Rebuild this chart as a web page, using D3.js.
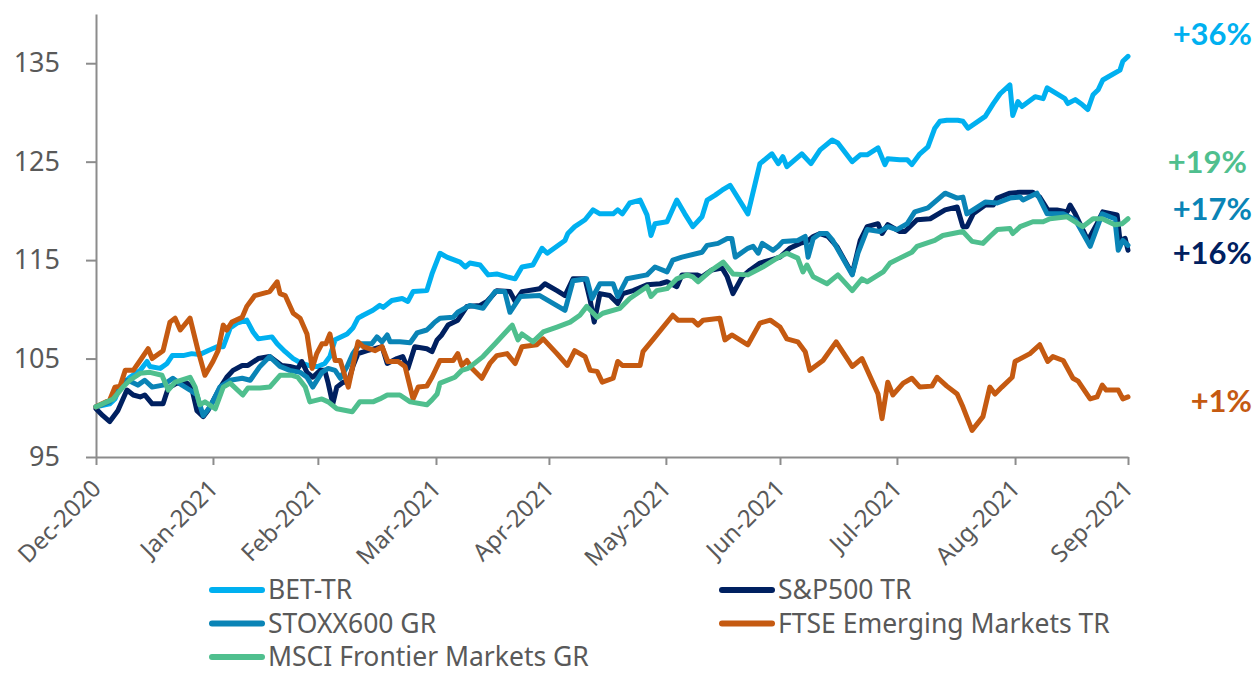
<!DOCTYPE html>
<html>
<head>
<meta charset="utf-8">
<script src="https://cdn.jsdelivr.net/npm/d3@7"></script>
<style>
  html, body { margin: 0; padding: 0; background: #ffffff; }
  svg { display: block; }
</style>
</head>
<body>
<svg id="chart" width="1256" height="675"></svg>
<script>
// ---- Data (x = trading session index since 1 Dec 2020, y = index level, start = 100) ----
const monthLabels = ["Dec-2020","Jan-2021","Feb-2021","Mar-2021","Apr-2021","May-2021","Jun-2021","Jul-2021","Aug-2021","Sep-2021"];
const monthSessions = [0, 20.4, 38.7, 59.3, 79, 99.4, 119.3, 139.7, 160.3, 180];
const yTicks = [95, 105, 115, 125, 135];

const seriesNames = ["BET-TR", "S&P500 TR", "STOXX600 GR", "FTSE Emerging Markets TR", "MSCI Frontier Markets GR"];
const seriesColors = ["#00b0f0", "#002060", "#0a84b6", "#c55a11", "#4fbf8e"];

const betTR = [[0,100.1],[2.4,100.4],[3.3,100.9],[4.2,102.1],[5.9,103.1],[7.7,103.8],[8.9,104.7],[9.4,104.2],[11.2,104.0],[12.4,104.5],[13.3,105.3],[15.2,105.3],[16.7,105.5],[18.1,105.4],[19.5,105.8],[21.1,106.2],[22.2,106.2],[23.4,108.1],[24.6,108.6],[26.3,108.9],[27.4,107.7],[28.3,107.0],[30.7,107.2],[31.6,106.5],[33.0,105.7],[34.4,105.0],[35.9,104.5],[37.7,104.2],[38.7,104.2],[39.9,104.5],[40.8,105.2],[41.7,106.9],[43.8,107.5],[44.8,108.1],[45.7,109.1],[46.6,109.4],[48.3,109.9],[49.5,110.4],[50.1,110.2],[51.6,110.9],[53.4,111.1],[54.4,110.8],[55.3,111.8],[57.7,111.9],[58.6,113.6],[60.0,115.7],[61.2,115.3],[63.5,114.8],[64.4,114.3],[65.2,114.7],[67.0,114.5],[68.4,113.5],[69.9,113.6],[71.7,113.3],[73.1,113.1],[74.3,114.3],[76.2,114.5],[77.8,116.2],[78.7,115.7],[81.8,117.0],[82.3,117.7],[83.5,118.4],[85.3,119.1],[86.7,120.1],[87.9,119.7],[90.2,119.7],[91.0,120.1],[91.8,119.7],[93.1,120.8],[94.9,121.1],[96.1,119.6],[96.8,117.5],[97.5,118.7],[99.6,118.9],[101.3,121.1],[102.7,119.7],[104.1,118.4],[105.7,119.4],[106.6,121.1],[108.0,121.6],[109.2,122.1],[110.6,122.6],[113.7,119.7],[115.8,124.8],[117.9,125.8],[119.0,124.8],[119.8,125.5],[120.5,124.5],[123.1,125.8],[124.7,124.8],[126.3,126.2],[128.4,127.2],[129.4,126.9],[131.9,125.0],[133.3,125.7],[134.5,125.7],[136.4,126.4],[137.6,124.7],[138.1,125.3],[140.2,125.2],[141.5,125.2],[142.3,124.7],[143.7,125.8],[145.1,126.5],[146.3,128.4],[147.2,129.1],[148.4,129.2],[150.3,129.2],[151.2,129.1],[152.1,128.4],[155.1,129.6],[156.5,130.9],[157.7,131.9],[159.4,132.8],[159.9,129.7],[160.8,131.1],[161.5,130.6],[163.8,131.6],[165.2,131.4],[165.9,132.5],[169.0,131.4],[169.5,130.9],[170.8,131.3],[172.0,130.8],[173.0,130.3],[173.9,131.8],[174.8,132.3],[175.6,133.3],[176.5,133.6],[178.6,134.3],[179.1,135.2],[180,135.7]];

const sp500TR = [[0,99.9],[1.2,99.2],[2.4,98.6],[3.8,99.7],[5.4,101.8],[6.5,101.3],[7.7,101.1],[8.5,101.3],[9.8,100.4],[11.7,100.4],[12.6,102.0],[14.1,102.5],[15.9,102.5],[16.7,102.0],[17.6,99.7],[18.7,99.1],[19.5,99.7],[21.6,102.0],[22.8,103.1],[23.9,103.8],[25.5,104.3],[26.5,104.3],[28.3,105.0],[30.3,105.2],[32.4,104.3],[33.8,104.2],[35.2,104.0],[35.9,104.7],[36.8,103.6],[37.8,103.1],[39.1,103.8],[39.9,103.8],[40.5,102.5],[41.3,100.4],[42.0,102.1],[43.1,102.6],[44.0,102.6],[44.8,104.2],[45.7,105.5],[47.3,105.8],[49.9,106.2],[50.8,104.5],[52.5,105.0],[53.5,105.2],[54.4,104.0],[55.6,106.2],[57.7,106.0],[58.6,105.7],[59.5,106.9],[60.3,107.4],[61.4,108.4],[63.1,108.9],[64.7,110.3],[67.0,110.4],[68.2,110.8],[69.9,111.9],[72.2,111.8],[73.1,110.8],[74.3,111.8],[77.4,112.1],[78.3,112.6],[80.4,111.9],[81.8,111.4],[83.2,113.1],[85.3,113.1],[86.2,110.9],[86.9,108.7],[87.9,111.6],[89.6,111.4],[91.0,110.6],[91.9,111.6],[93.7,111.9],[96.1,112.5],[98.4,112.6],[99.6,112.8],[101.3,112.3],[102.2,113.5],[104.8,113.5],[105.7,113.3],[107.4,114.0],[109.2,114.2],[110.1,113.3],[111.1,111.6],[112.7,113.3],[114.1,114.0],[115.8,114.7],[117.6,115.0],[119.3,115.3],[121.0,116.2],[122.8,116.7],[124.0,116.9],[125.1,117.4],[126.3,117.7],[127.7,117.4],[129.2,116.4],[131.9,113.6],[133.3,117.0],[134.5,118.4],[136.4,118.7],[137.1,117.7],[138.1,118.6],[140.2,117.9],[141.1,117.9],[143.2,119.1],[145.5,119.2],[148.1,120.1],[150.2,120.4],[151.2,118.4],[151.9,118.4],[153.0,119.7],[155.1,120.6],[156.5,120.6],[157.2,121.3],[159.4,121.8],[161.2,121.9],[163.4,121.9],[164.6,121.4],[166.0,120.1],[167.6,120.1],[169.4,119.9],[169.9,120.6],[170.8,119.7],[173.0,117.0],[174.6,118.7],[175.6,119.9],[178.1,119.6],[178.6,117.0],[179.5,117.2],[180,116.0]];

const stoxx600GR = [[0,100.1],[2.4,100.6],[3.7,101.6],[5.1,102.8],[6.3,102.6],[7.3,102.3],[8.5,102.8],[9.8,102.1],[11.7,102.3],[13.4,103.0],[15.0,102.3],[16.4,101.8],[17.6,101.3],[18.7,99.2],[19.9,100.1],[21.6,102.1],[23.4,102.8],[25.5,103.0],[26.9,102.8],[28.6,104.2],[30.3,105.2],[32.1,104.2],[33.8,103.8],[35.6,103.6],[36.8,103.1],[37.8,102.1],[39.4,103.6],[40.5,104.0],[41.7,103.8],[42.6,103.0],[43.8,104.2],[44.8,105.5],[46.0,106.5],[48.1,106.5],[49.0,107.2],[49.9,106.7],[50.8,107.4],[51.3,106.7],[53.0,106.7],[54.8,106.6],[56.0,107.6],[57.7,107.9],[58.6,108.4],[59.1,108.7],[60.0,109.1],[62.3,109.2],[63.1,109.7],[65.2,110.4],[67.5,110.1],[69.6,111.8],[71.3,111.8],[72.2,109.7],[74.0,111.3],[77.4,111.4],[81.8,109.9],[83.2,112.9],[85.6,113.1],[86.5,111.1],[87.9,112.6],[90.2,112.6],[91.0,111.3],[92.6,113.1],[96.1,113.5],[97.5,114.3],[99.6,113.8],[100.6,115.0],[102.2,115.3],[105.7,115.8],[106.6,116.5],[108.5,116.7],[110.1,117.2],[110.9,117.2],[111.5,115.3],[113.7,116.2],[114.6,116.4],[115.5,115.7],[116.2,116.7],[118.1,116.0],[119.0,116.4],[119.8,116.9],[122.4,117.0],[123.7,117.4],[124.2,115.3],[125.1,117.2],[126.3,117.7],[127.5,117.7],[128.5,117.0],[131.9,113.5],[132.9,115.7],[134.5,118.1],[136.7,117.9],[138.1,118.4],[139.7,118.1],[141.5,118.7],[142.8,119.9],[145.1,120.3],[148.1,121.8],[150.2,121.3],[151.2,121.4],[151.9,119.7],[155.1,120.9],[157.2,120.8],[159.4,121.3],[161.2,121.4],[161.7,121.1],[164.1,121.8],[165.9,119.7],[168.7,119.7],[170.8,119.1],[173.4,116.4],[175.5,119.7],[177.7,119.2],[178.3,116.0],[179.1,117.0],[180,116.5]];

const ftseEmTR = [[0,100.1],[2.4,100.8],[3.3,102.1],[4.2,102.2],[5.1,103.8],[6.5,103.8],[7.7,104.8],[9.1,106.0],[9.8,105.0],[11.7,105.8],[12.9,108.7],[13.8,109.1],[14.7,107.9],[16.4,109.1],[17.8,105.8],[19.0,103.3],[20.4,104.7],[21.3,105.8],[22.2,108.4],[22.8,107.9],[23.7,108.7],[25.5,109.2],[26.3,110.3],[27.7,111.4],[30.3,111.8],[31.6,112.8],[32.1,111.6],[33.0,111.4],[34.4,109.6],[35.6,109.1],[36.8,107.5],[37.7,104.0],[38.5,105.5],[39.4,106.5],[40.1,106.5],[40.8,107.5],[41.7,104.8],[42.6,104.8],[44.0,102.1],[45.7,106.7],[46.6,106.2],[48.7,105.8],[49.9,106.2],[50.9,104.7],[52.7,104.7],[53.9,104.2],[55.3,100.9],[56.2,102.1],[57.7,102.2],[58.6,103.1],[60.0,104.8],[62.3,104.8],[63.1,105.5],[63.8,104.3],[64.7,104.8],[65.6,104.0],[67.3,103.0],[68.7,104.5],[69.9,105.3],[71.7,105.5],[73.1,104.5],[74.3,106.2],[76.9,106.4],[78.0,107.0],[80.4,105.5],[82.2,104.3],[83.5,105.8],[85.3,105.2],[86.2,103.8],[87.4,103.7],[88.3,102.6],[90.2,103.0],[91.0,104.7],[91.8,104.3],[94.9,104.3],[95.4,105.7],[97.1,106.9],[100.6,109.4],[101.5,108.9],[104.1,108.9],[105.0,108.4],[105.9,108.9],[108.8,109.1],[109.7,106.9],[110.9,107.4],[113.7,106.4],[115.8,108.6],[117.6,108.9],[119.3,108.2],[120.5,107.0],[122.4,106.7],[123.7,105.7],[124.5,103.8],[126.8,104.8],[129.1,106.7],[131.9,104.2],[133.6,105.0],[136.4,101.4],[137.1,98.9],[138.1,102.6],[139.0,101.3],[140.8,102.5],[142.3,103.0],[143.7,102.1],[145.8,102.2],[146.7,103.1],[148.4,102.2],[150.2,101.4],[151.2,100.1],[152.8,97.7],[154.7,99.1],[155.9,102.1],[156.8,101.4],[158.0,102.1],[159.8,103.1],[160.3,104.7],[162.9,105.5],[164.6,106.4],[166.0,104.7],[166.9,105.2],[168.7,104.8],[170.4,103.0],[171.3,102.7],[173.4,100.9],[174.6,101.1],[175.5,102.3],[176.2,101.8],[178.3,101.8],[179.1,100.9],[180,101.1]];

const msciFmGR = [[0,100.1],[3.0,100.9],[4.7,102.1],[5.9,102.8],[7.7,103.5],[9.4,103.6],[11.5,103.3],[12.6,101.8],[13.8,102.6],[16.4,103.1],[17.3,102.1],[18.1,100.3],[19.0,100.6],[20.8,99.9],[22.2,102.1],[23.4,102.5],[25.6,101.3],[26.5,102.0],[28.6,102.0],[30.3,102.1],[32.1,103.3],[34.2,103.3],[35.2,103.1],[36.5,102.1],[37.3,100.6],[39.4,100.9],[40.5,100.6],[42.0,99.9],[44.7,99.6],[46.0,100.6],[48.3,100.6],[49.5,100.9],[50.8,101.3],[53.0,101.3],[54.8,100.6],[57.7,100.3],[58.6,100.8],[59.5,101.4],[60.0,102.5],[62.6,103.1],[63.8,103.8],[64.9,104.0],[67.5,105.2],[69.6,106.5],[72.6,108.4],[73.6,106.9],[74.3,107.5],[76.2,106.7],[78.0,107.7],[80.4,108.2],[82.7,108.7],[84.4,109.4],[85.6,110.3],[87.4,109.2],[88.4,109.6],[91.4,110.1],[93.1,111.1],[96.1,112.3],[96.8,111.3],[97.8,111.9],[99.6,112.1],[101.3,113.1],[103.1,113.5],[104.1,113.3],[105.0,112.8],[107.4,114.0],[109.4,114.8],[111.1,113.6],[113.7,113.5],[116.3,114.3],[118.8,115.2],[120.5,115.7],[122.4,115.2],[123.3,113.8],[124.0,114.5],[125.1,113.3],[127.5,112.6],[129.4,113.5],[131.9,111.9],[133.6,113.1],[134.5,112.8],[137.3,113.8],[138.5,114.7],[140.2,115.2],[142.3,115.8],[143.2,116.4],[146.3,117.0],[147.7,117.5],[151.2,117.9],[152.8,116.9],[154.7,116.7],[155.9,117.4],[157.2,118.1],[159.4,118.2],[159.9,117.7],[161.2,118.4],[163.4,118.9],[165.2,118.9],[166.4,119.2],[169.4,119.4],[172.1,118.4],[173.9,119.2],[175.5,119.2],[177.7,118.6],[179.0,118.7],[180,119.2]];

const endLabels = ["+36%", "+16%", "+17%", "+1%", "+19%"];     // same order as series
const endLabelLevels = [138.0, 115.7, 120.25, 100.7, 125.0]; // vertical placement on the y scale

// ---- Layout ----
const svg = d3.select("#chart");
const axisColor = "#8c8c8c";
const textColor = "#595959";
const baseFont = "'Noto Sans', 'Open Sans', sans-serif";

const x = d3.scaleLinear().domain([0, 180]).range([96, 1128]);
const y = d3.scaleLinear().domain([95, 140]).range([457, 14]);

const allSeries = [betTR, sp500TR, stoxx600GR, ftseEmTR, msciFmGR];

// Y axis
const yAxis = svg.append("g").attr("transform", "translate(96,0)")
  .call(d3.axisLeft(y).tickValues(yTicks).tickSize(10).tickSizeOuter(0).tickPadding(26));
yAxis.select(".domain").attr("stroke", axisColor).attr("stroke-width", 2);
yAxis.selectAll(".tick line").attr("stroke", axisColor).attr("stroke-width", 2);
yAxis.selectAll(".tick text").attr("fill", textColor).style("font-family", baseFont).style("font-size", "27px");

// X axis
const xAxis = svg.append("g").attr("transform", "translate(0,457)")
  .call(d3.axisBottom(x).tickValues(monthSessions).tickSize(8).tickSizeOuter(0)
    .tickFormat((d, i) => monthLabels[i]));
xAxis.select(".domain").attr("stroke", axisColor).attr("stroke-width", 2);
xAxis.selectAll(".tick line").attr("stroke", axisColor).attr("stroke-width", 2);
xAxis.selectAll(".tick text")
  .attr("x", 0).attr("y", 0).attr("dy", 0)
  .attr("text-anchor", "end")
  .attr("transform", "translate(6,33) rotate(-45)")
  .attr("fill", textColor)
  .style("font-family", baseFont).style("font-size", "24px");

// Lines
const line = d3.line().x(d => x(d[0])).y(d => y(d[1]));
svg.append("g").selectAll("path").data(allSeries).join("path")
  .attr("d", line)
  .attr("fill", "none")
  .attr("stroke", (d, i) => seriesColors[i])
  .attr("stroke-width", 5)
  .attr("stroke-linejoin", "round")
  .attr("stroke-linecap", "round");

// End labels
svg.append("g").selectAll("text").data(endLabels).join("text")
  .attr("x", (d, i) => i === 4 ? 1247 : 1252)
  .attr("y", (d, i) => y(endLabelLevels[i]))
  .attr("dy", "0.36em")
  .attr("text-anchor", "end")
  .attr("fill", (d, i) => seriesColors[i])
  .style("font-family", "Lato, 'Open Sans', sans-serif")
  .style("font-weight", "bold")
  .style("font-size", "31px")
  .text(d => d);

// Legend (two columns, three rows)
const legend = svg.append("g");
const legendItems = legend.selectAll("g").data(seriesNames).join("g")
  .attr("transform", (d, i) => `translate(${i % 2 === 0 ? 212 : 722},${590 + Math.floor(i / 2) * 33.5})`);
legendItems.append("line")
  .attr("x1", 0).attr("x2", 50).attr("y1", 0).attr("y2", 0)
  .attr("stroke", (d, i) => seriesColors[i])
  .attr("stroke-width", 6)
  .attr("stroke-linecap", "round");
legendItems.append("text")
  .attr("x", 56).attr("y", 0).attr("dy", "0.35em")
  .attr("fill", textColor)
  .style("font-family", baseFont).style("font-size", "26.5px")
  .text(d => d);
</script>
</body>
</html>
